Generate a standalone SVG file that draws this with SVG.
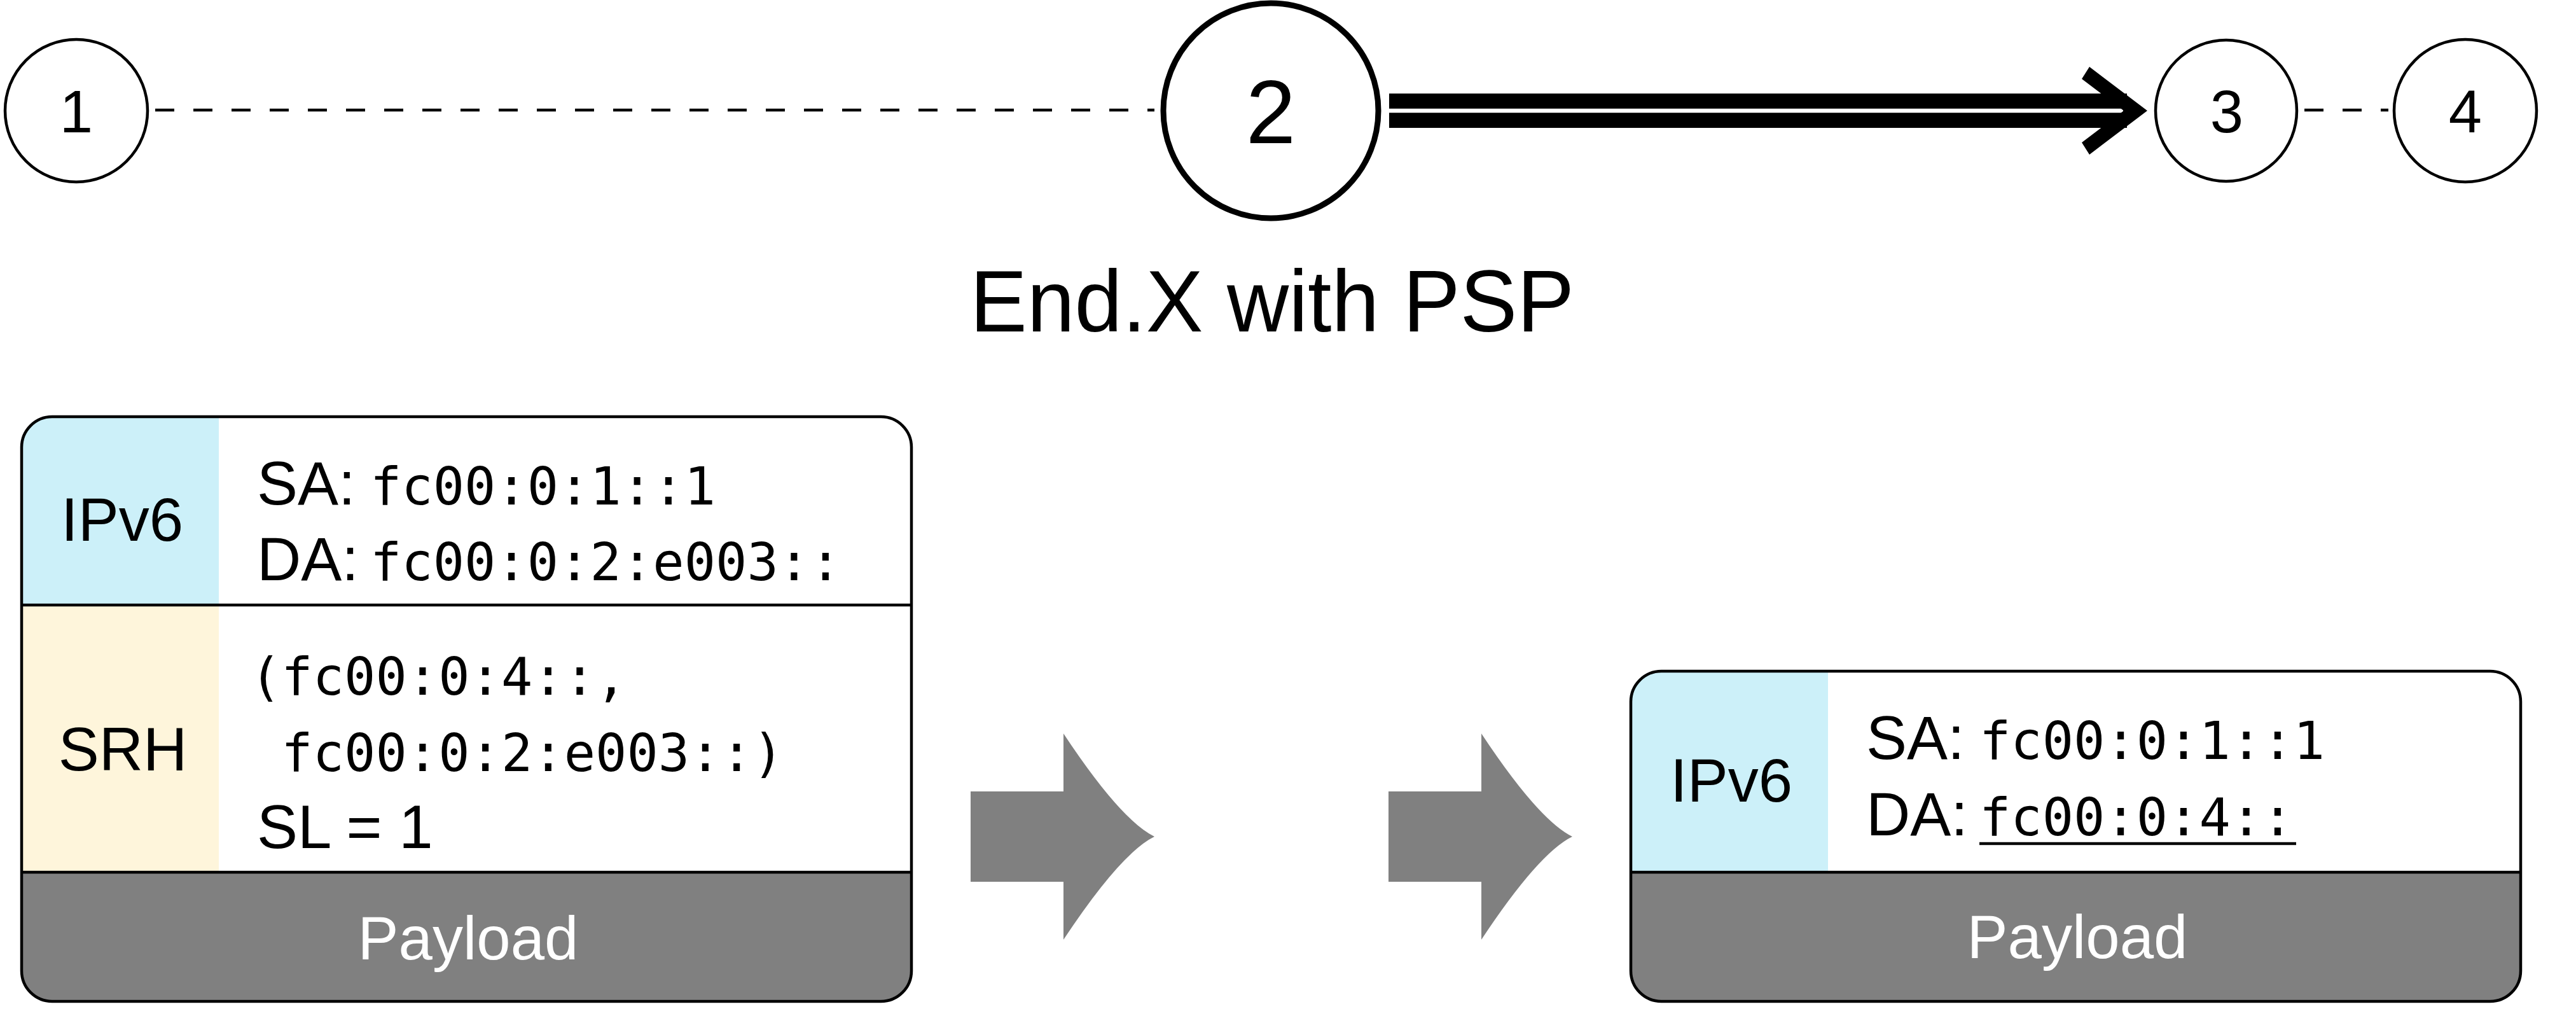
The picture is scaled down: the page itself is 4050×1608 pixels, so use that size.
<svg xmlns="http://www.w3.org/2000/svg" width="4050" height="1608" viewBox="0 0 4050 1608">
<style>
.node circle{fill:#fff;stroke:#000}
.sans{font-family:"Liberation Sans",Arial,sans-serif;fill:#000}
.mono{font-family:"DejaVu Sans Mono","Liberation Mono",monospace;font-size:82px;fill:#000}
.lbl{font-size:96px}
.mid{text-anchor:middle}
.dash{stroke:#000;stroke-width:4.5;stroke-dasharray:30 30;fill:none}
.div{stroke:#000;stroke-width:4.5}
.frame{fill:none;stroke:#000;stroke-width:4.5}
.ipv6{fill:#ccf0f9}
.srh{fill:#fef5db}
.pay{fill:#808080}
.garrow{fill:#808080}
</style>
<defs>
<clipPath id="clipA"><rect x="34" y="655" width="1399" height="919" rx="48" ry="48"/></clipPath>
<clipPath id="clipB"><rect x="2564" y="1055" width="1399" height="519" rx="48" ry="48"/></clipPath>
</defs>
<rect width="4050" height="1608" fill="#fff"/>

<g id="connectors">
<line class="dash" x1="244" y1="173" x2="1815" y2="173"/>
<line class="dash" x1="3623" y1="173" x2="3755" y2="173"/>
<line x1="2184" y1="174" x2="3344" y2="174" stroke="#000" stroke-width="54"/>
<line x1="2180" y1="174" x2="3338" y2="174" stroke="#fff" stroke-width="6.5"/>
<polygon points="3285,105 3376,174 3285,243 3273,224 3339,174 3273,124" fill="#000"/>
</g>

<g id="node1" class="node"><circle cx="120" cy="174" r="112" stroke-width="4.5"/><text class="sans mid" x="120" y="208" font-size="94">1</text></g>
<g id="node2" class="node"><circle cx="1998" cy="174" r="169" stroke-width="9"/><text class="sans mid" x="1998" y="225" font-size="141">2</text></g>
<g id="node3" class="node"><circle cx="3500" cy="174" r="111" stroke-width="4.5"/><text class="sans mid" x="3501" y="208" font-size="94">3</text></g>
<g id="node4" class="node"><circle cx="3876" cy="174" r="112" stroke-width="4.5"/><text class="sans mid" x="3876" y="208" font-size="94">4</text></g>

<g id="title"><text class="sans mid" x="2000" y="521" font-size="138" textLength="950" lengthAdjust="spacingAndGlyphs">End.X with PSP</text></g>

<g id="packet-before">
<g clip-path="url(#clipA)">
<rect x="34" y="655" width="1399" height="919" fill="#fff"/>
<rect class="ipv6" x="34" y="655" width="310" height="296"/>
<rect class="srh" x="34" y="951" width="310" height="420"/>
<rect class="pay" x="34" y="1371" width="1399" height="203"/>
</g>
<line class="div" x1="34" y1="951" x2="1433" y2="951"/>
<line class="div" x1="34" y1="1371" x2="1433" y2="1371"/>
<rect class="frame" x="34" y="655" width="1399" height="919" rx="48" ry="48"/>
<text class="sans lbl mid" x="192" y="850">IPv6</text>
<text class="sans lbl mid" x="193" y="1211">SRH</text>
<text class="sans lbl mid" x="736" y="1508" style="fill:#fff">Payload</text>
<text class="sans lbl" x="404" y="793">SA:</text>
<text class="mono" x="582" y="793">fc00:0:1::1</text>
<text class="sans lbl" x="404" y="912">DA:</text>
<text class="mono" x="582" y="912">fc00:0:2:e003::</text>
<text class="mono" x="393" y="1092" xml:space="preserve">(fc00:0:4::,</text>
<text class="mono" x="393" y="1212" xml:space="preserve"> fc00:0:2:e003::)</text>
<text class="sans lbl" x="404" y="1333">SL = 1</text>
</g>

<g id="transition-arrows">
<path class="garrow" d="M1526,1244 H1672 V1153 Q1762,1289 1815,1315 Q1762,1341 1672,1477 V1386 H1526 Z"/>
<path class="garrow" d="M2183,1244 H2329 V1153 Q2419,1289 2472,1315 Q2419,1341 2329,1477 V1386 H2183 Z"/>
</g>

<g id="packet-after">
<g clip-path="url(#clipB)">
<rect x="2564" y="1055" width="1399" height="519" fill="#fff"/>
<rect class="ipv6" x="2564" y="1055" width="310" height="316"/>
<rect class="pay" x="2564" y="1371" width="1399" height="203"/>
</g>
<line class="div" x1="2564" y1="1371" x2="3963" y2="1371"/>
<rect class="frame" x="2564" y="1055" width="1399" height="519" rx="48" ry="48"/>
<text class="sans lbl mid" x="2722" y="1260">IPv6</text>
<text class="sans lbl mid" x="3266" y="1506" style="fill:#fff">Payload</text>
<text class="sans lbl" x="2934" y="1193">SA:</text>
<text class="mono" x="3112" y="1193">fc00:0:1::1</text>
<text class="sans lbl" x="2934" y="1313">DA:</text>
<text class="mono" x="3112" y="1313">fc00:0:4::</text>
<line x1="3112" y1="1326" x2="3610" y2="1326" stroke="#000" stroke-width="4.5"/>
</g>
</svg>
